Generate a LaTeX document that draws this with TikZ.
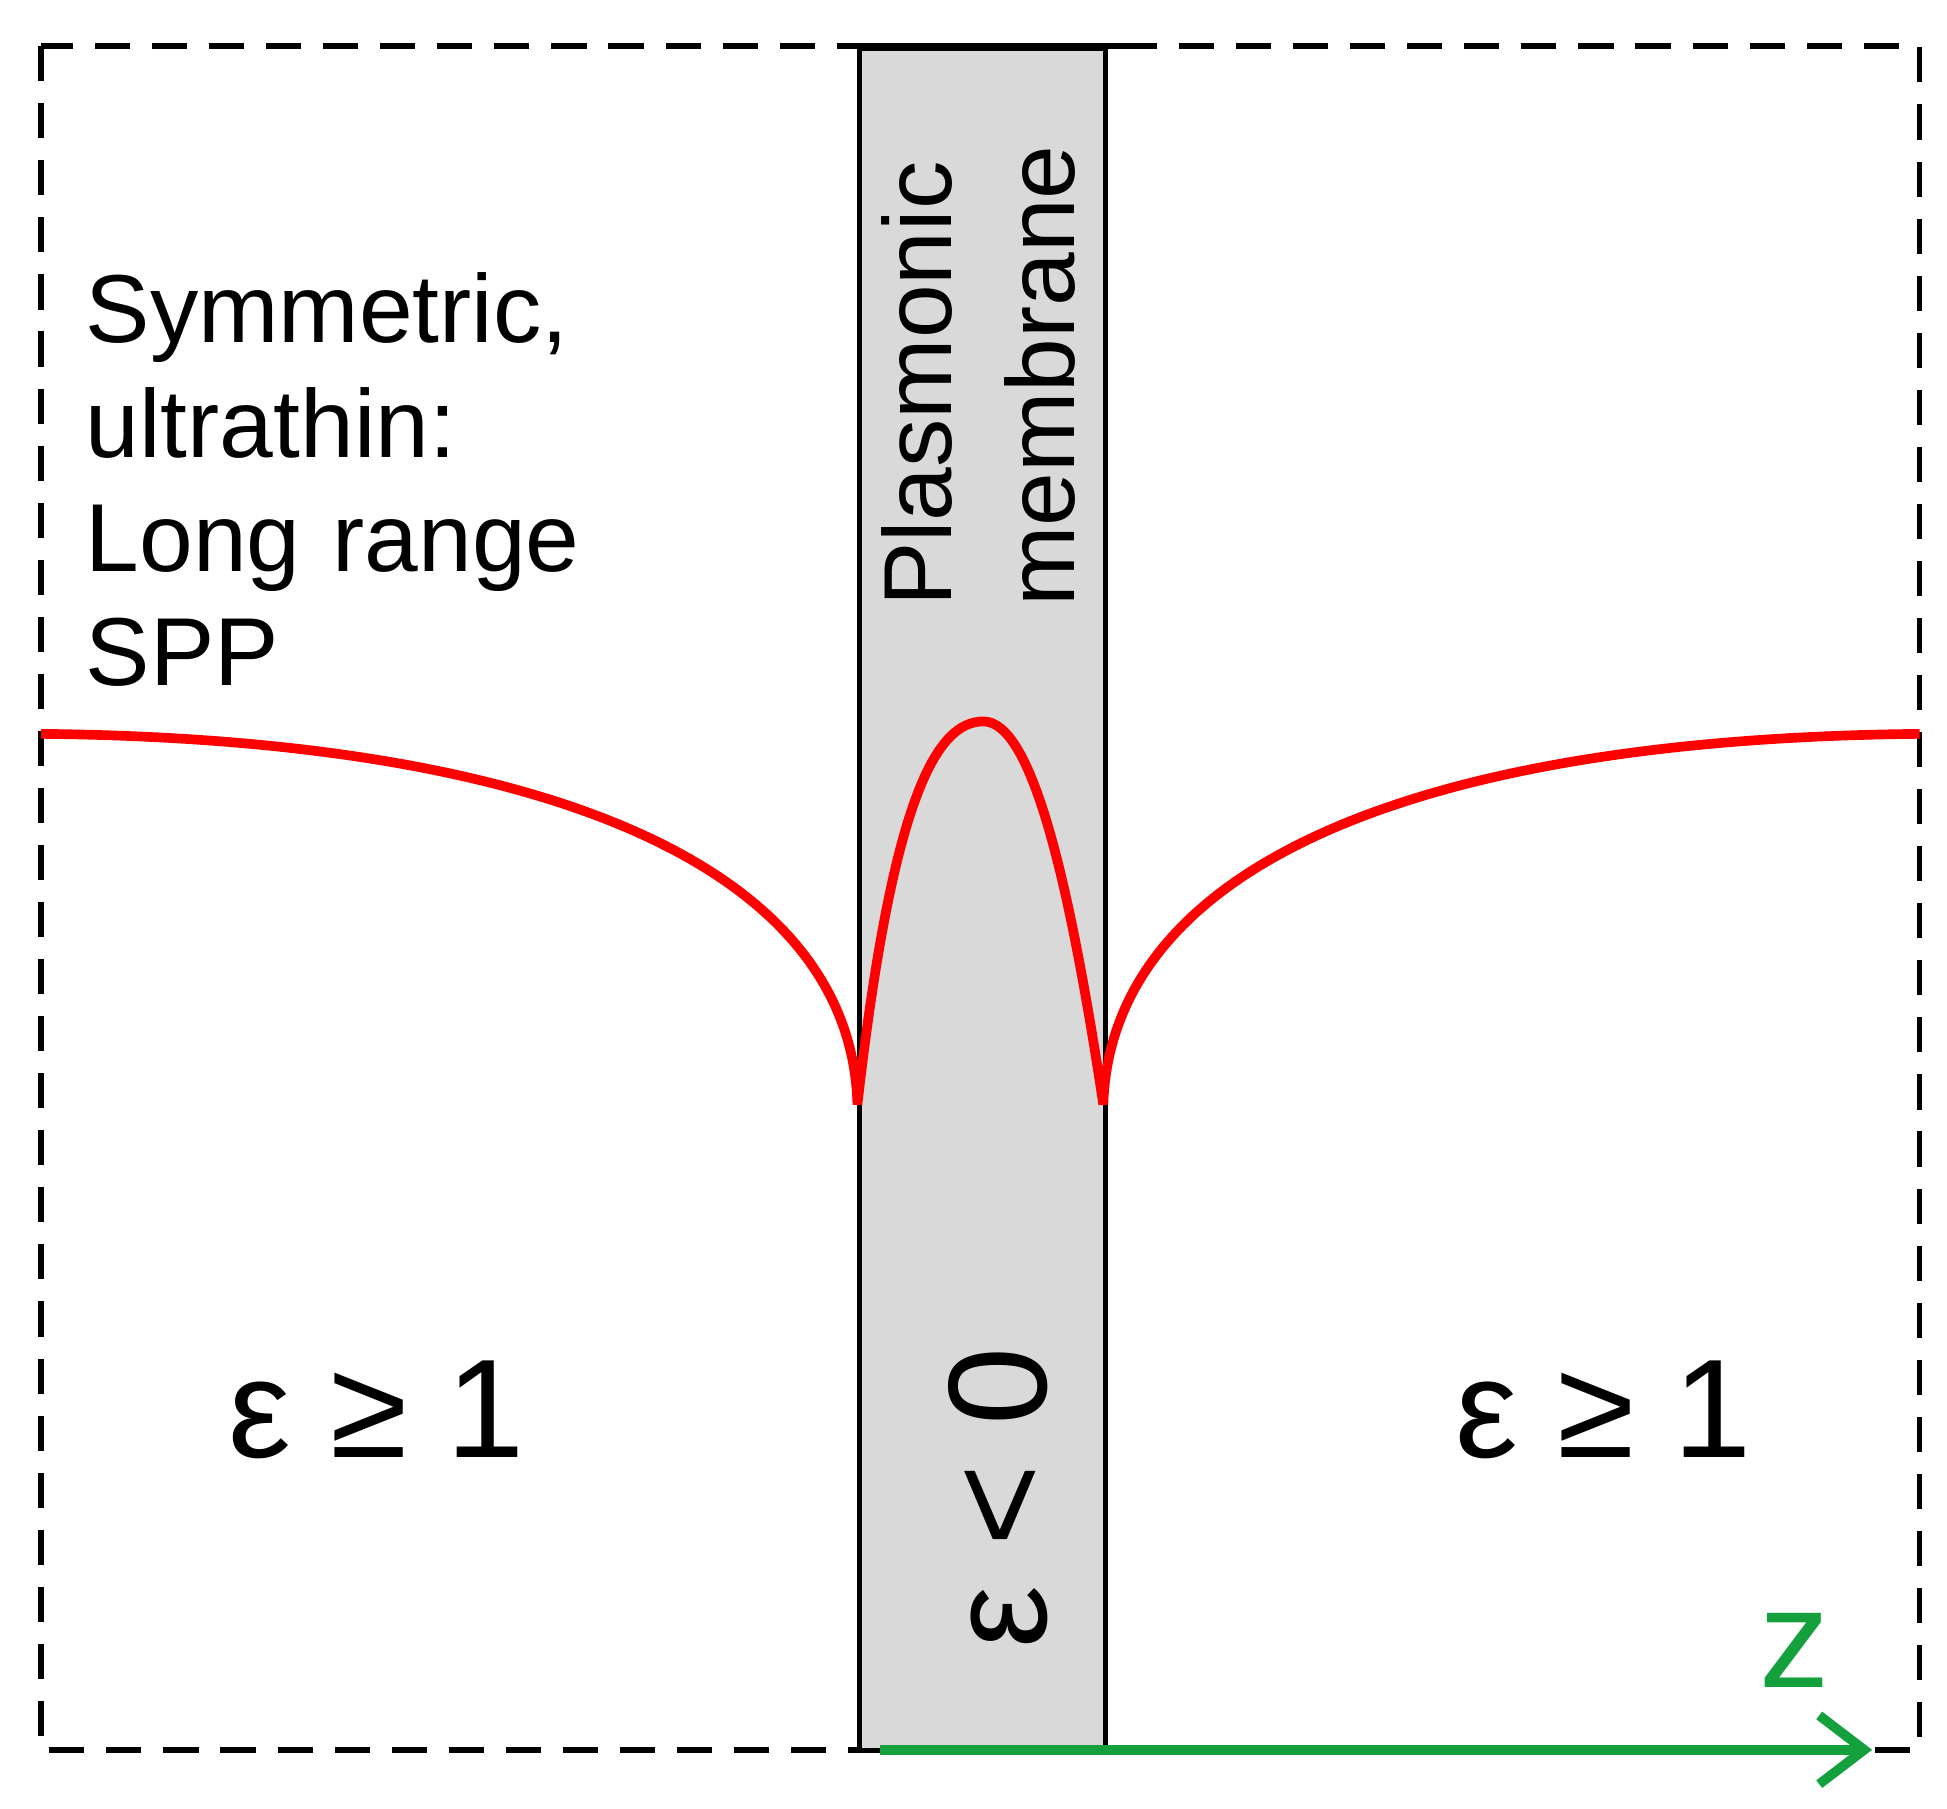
\documentclass[tikz,border=0pt]{standalone}
\usepackage{fontspec}
\setmainfont{Liberation Sans}
\usetikzlibrary{arrows.meta}
\definecolor{memgray}{RGB}{217,217,217}
\definecolor{zgreen}{RGB}{20,160,60}
\begin{document}
\begin{tikzpicture}[x=0.01cm,y=-0.01cm,
  lbl/.style={font=\fontsize{22}{26}\selectfont, inner sep=0pt},
  eps/.style={font=\fontsize{32}{38}\selectfont, inner sep=0pt},
  field/.style={red, line width=2.2pt}]
\useasboundingbox (0,0) rectangle (1560,1449);
\draw[line width=1.3pt, dash pattern=on 8pt off 5pt] (33,37) rectangle (1538,1402);
\node[draw=black, line width=1.1pt, fill=memgray, minimum width=1.97cm, minimum height=13.63cm, inner sep=0pt, anchor=north west] (mem) at (687,37) {};
\draw[line width=1.3pt] (687,37) -- (905,37);
\coordinate (L0) at (33,588);
\coordinate (L1) at (687,885);
\coordinate (R1) at (884,885);
\coordinate (R0) at (1538,588);
\coordinate (P) at (788,578);
\draw[field] (L0) .. controls (450,592) and (682,700) .. (L1)
  .. controls (715,640) and (750,578) .. (P)
  .. controls (826,578) and (856,700) .. (R1)
  .. controls (890,700) and (1121,592) .. (R0);
\node[lbl, align=left, anchor=north west, text width=6cm] (title) at (68,218)
  {Symmetric,\\[0pt]ultrathin:\\[0pt]Long range\\[0pt]SPP};
\node[lbl, rotate=90, anchor=west] (pl) at (735,487) {Plasmonic};
\node[lbl, rotate=90, anchor=west] (mb) at (833,487) {membrane};
\node[eps] (e1) at (302,1130) {ε ≥ 1};
\node[eps] (e2) at (1285,1130) {ε ≥ 1};
\node[eps, rotate=90] (e3) at (800,1200) {ε < 0};
\coordinate (zs) at (705,1402);
\coordinate (ze) at (1500,1402);
\draw[zgreen, line width=2.2pt, -{Straight Barb[length=0.36cm,width=0.55cm]}] (zs) -- (ze);
\node[font=\fontsize{32}{38}\selectfont, text=zgreen, inner sep=0pt] (z) at (1438,1322) {z};
\end{tikzpicture}
\end{document}
